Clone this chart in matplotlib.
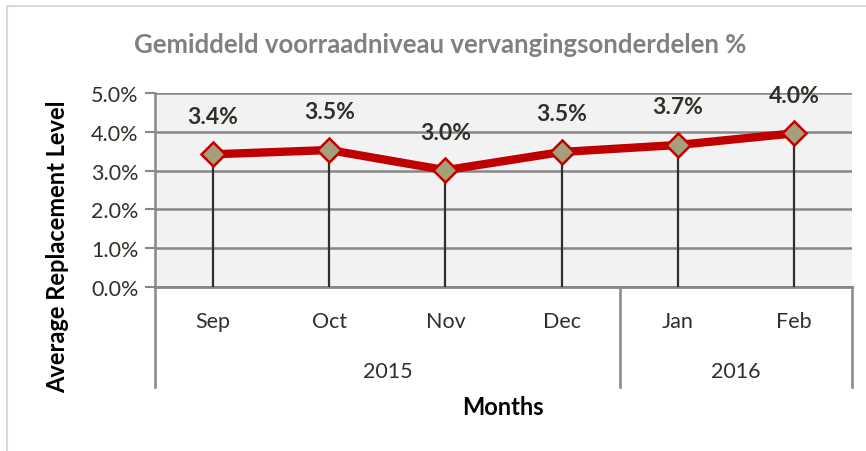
import matplotlib
matplotlib.use('Agg')
import matplotlib.pyplot as plt
from matplotlib.patches import Rectangle

plt.rcParams['font.family'] = ['Lato', 'DejaVu Sans']

MONTHS = ['Sep', 'Oct', 'Nov', 'Dec', 'Jan', 'Feb']
YEARS = ['2015', '2016']
YEAR_SPAN = [(0, 3), (4, 5)]  # first / last month index per year
LEVEL = [3.42, 3.53, 3.01, 3.48, 3.66, 3.96]
LEVEL_LABELS = ['3.4%', '3.5%', '3.0%', '3.5%', '3.7%', '4.0%']

W, H = 866, 452
TEXT_COLOR = '#332f28'
GRID_COLOR = '#878787'
LINE_RED = '#c00000'
MARKER_FILL = '#a6a07a'

fig = plt.figure(figsize=(W / 100, H / 100), dpi=100)

# outer chart border (goes off the image on the right and bottom)
fig.patches.append(Rectangle((7 / W, -0.2), 2, 1 - 7 / H + 0.2, transform=fig.transFigure,
                             fill=False, edgecolor='#d9d9d9', linewidth=1.5))

left, right, top, bottom = 155, 852, 94, 288
ax = fig.add_axes([left / W, 1 - bottom / H, (right - left) / W, (bottom - top) / H])
ax.set_facecolor('#f2f2f2')

x = list(range(len(MONTHS)))

# drop lines
ax.vlines(x, 0, LEVEL, color=TEXT_COLOR, linewidth=1.6, zorder=3)
ax.plot(x, LEVEL, color=LINE_RED, linewidth=6, zorder=4, solid_capstyle='butt')
ax.plot(x, LEVEL, linestyle='none', marker='D', markersize=12.5, markerfacecolor=MARKER_FILL,
        markeredgecolor=LINE_RED, markeredgewidth=1.8, zorder=5)

for xi, v, lab in zip(x, LEVEL, LEVEL_LABELS):
    ax.annotate(lab, (xi, v), xytext=(0, 27.5), textcoords='offset points', ha='center', va='center',
                fontsize=16.5, fontweight='bold', color=TEXT_COLOR, zorder=6)

ax.set_xlim(-0.5, len(MONTHS) - 0.5)
ax.set_ylim(0, 5)
ax.set_yticks([0, 1, 2, 3, 4, 5])
ax.set_yticklabels([f'{t:.1f}%' for t in [0, 1, 2, 3, 4, 5]], fontsize=15.5, color=TEXT_COLOR)
ax.yaxis.grid(True, color=GRID_COLOR, linewidth=1.8)
ax.set_axisbelow(True)
ax.tick_params(axis='y', direction='out', length=7, width=1.5, color=GRID_COLOR, pad=5)

ax.set_xticks(x)
ax.set_xticklabels(MONTHS, fontsize=15.5, color=TEXT_COLOR)
ax.tick_params(axis='x', length=0, pad=17.5)

for s in ['top', 'right']:
    ax.spines[s].set_visible(False)
ax.spines['left'].set_color(GRID_COLOR)
ax.spines['left'].set_linewidth(1.8)
ax.spines['bottom'].set_color(GRID_COLOR)
ax.spines['bottom'].set_linewidth(2)

# multi-level category axis: year labels and separators
trans = ax.get_xaxis_transform()
sep_bottom = -(388 - bottom) / (bottom - top)
seps = [-0.5] + [span[1] + 0.5 for span in YEAR_SPAN]
for sx in seps:
    ax.plot([sx, sx], [0, sep_bottom], transform=trans, color=GRID_COLOR, linewidth=1.8,
            clip_on=False, zorder=2)
for yr, (a, b) in zip(YEARS, YEAR_SPAN):
    ax.text((a + b) / 2, -(372 - bottom) / (bottom - top), yr, transform=trans, ha='center',
            va='center', fontsize=15.5, color=TEXT_COLOR)

fig.text(440 / W, 1 - 45 / H, 'Gemiddeld voorraadniveau vervangingsonderdelen %', ha='center',
         va='center', fontsize=18.5, fontweight='bold', color='#808080')
fig.text(503 / W, 1 - 408 / H, 'Months', ha='center', va='center', fontsize=17,
         fontweight='bold', color='black')
fig.text(58 / W, 1 - 247 / H, 'Average Replacement Level', ha='center', va='center',
         rotation=90, fontsize=17, fontweight='bold', color='black')

fig.savefig('out.png', dpi=100)
